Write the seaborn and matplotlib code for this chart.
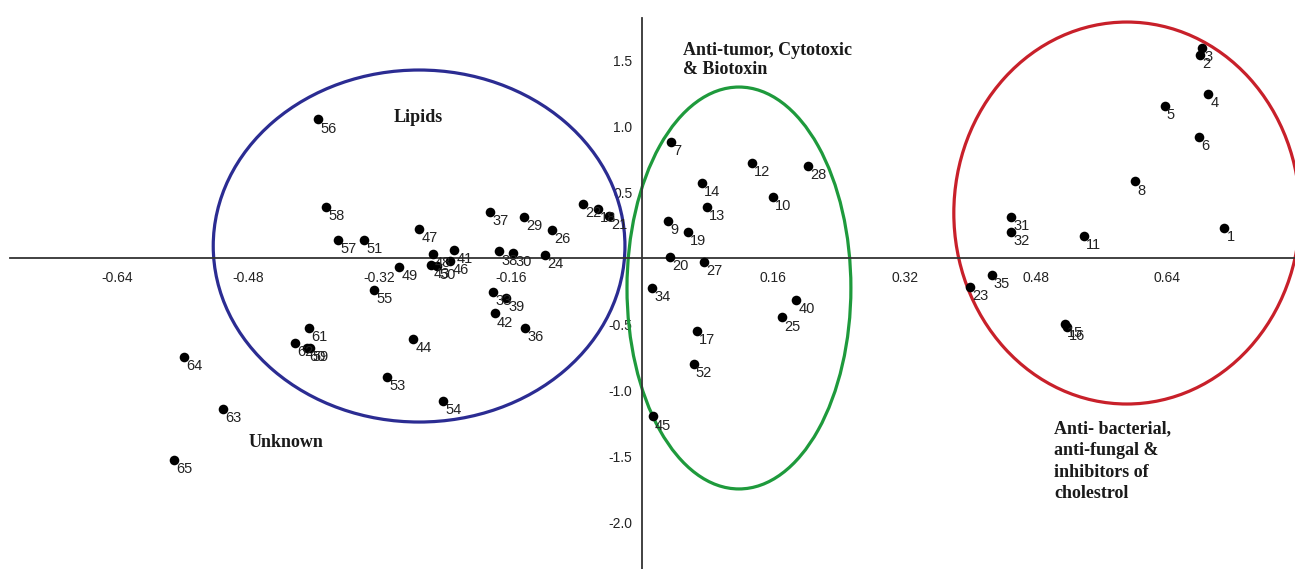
import numpy as np
import pandas as pd
import seaborn as sns
import matplotlib.pyplot as plt
from matplotlib.patches import Ellipse

# point ids and coordinates
ids = [1, 2, 3, 4, 5, 6, 7, 8, 9, 10,
       11, 12, 13, 14, 15, 16, 17, 18, 19, 20,
       21, 22, 23, 24, 25, 26, 27, 28, 29, 30,
       31, 32, 33, 34, 35, 36, 37, 38, 39, 40,
       41, 42, 43, 44, 45, 46, 47, 48, 49, 50,
       51, 52, 53, 54, 55, 56, 57, 58, 59, 60,
       61, 62, 63, 64, 65]
xs = [0.710, 0.680, 0.683, 0.690, 0.637, 0.679, 0.035, 0.601, 0.032, 0.159,
      0.539, 0.134, 0.079, 0.073, 0.515, 0.518, 0.067, -0.054, 0.056, 0.034,
      -0.040, -0.072, 0.400, -0.118, 0.171, -0.110, 0.076, 0.202, -0.144, -0.157,
      0.450, 0.450, -0.182, 0.012, 0.426, -0.143, -0.185, -0.174, -0.166, 0.188,
      -0.229, -0.180, -0.257, -0.279, 0.013, -0.234, -0.272, -0.255, -0.296, -0.250,
      -0.339, 0.063, -0.311, -0.243, -0.327, -0.395, -0.371, -0.385, -0.405, -0.409,
      -0.406, -0.423, -0.511, -0.559, -0.571]
ys = [0.227, 1.54, 1.59, 1.24, 1.15, 0.92, 0.88, 0.58, 0.28, 0.46,
      0.17, 0.72, 0.39, 0.57, -0.50, -0.52, -0.55, 0.37, 0.20, 0.01,
      0.32, 0.41, -0.22, 0.02, -0.45, 0.21, -0.03, 0.70, 0.31, 0.04,
      0.31, 0.20, -0.26, -0.23, -0.13, -0.53, 0.35, 0.05, -0.30, -0.32,
      0.06, -0.42, -0.05, -0.61, -1.20, -0.02, 0.22, 0.03, -0.07, -0.06,
      0.14, -0.80, -0.90, -1.08, -0.24, 1.05, 0.14, 0.39, -0.68, -0.68,
      -0.53, -0.64, -1.14, -0.75, -1.53]

x_ticks = [-0.64, -0.48, -0.32, -0.16, 0.16, 0.32, 0.48, 0.64]
y_ticks = [1.5, 1.0, 0.5, -0.5, -1.0, -1.5, -2.0]

# group ellipses: centre x, centre y, width, height, colour
groups = ['Lipids', 'Anti-tumor', 'Anti-bacterial']
ell_cx = [-0.272, 0.118, 0.591]
ell_cy = [0.091, -0.227, 0.341]
ell_w = [0.502, 0.273, 0.422]
ell_h = [2.667, 3.045, 2.894]
ell_col = ['#2b2c92', '#1e9a3c', '#c8202a']

df = pd.DataFrame({'id': ids, 'x': xs, 'y': ys})

sns.set_style('white')
plt.rcParams['font.family'] = ['Liberation Sans', 'DejaVu Sans']

fig = plt.figure(figsize=(12.95, 5.69), dpi=100)
ax = fig.add_axes([0, 0, 1, 1])

sns.scatterplot(data=df, x='x', y='y', color='black', s=48,
                edgecolor='black', linewidth=0, ax=ax, zorder=3)

for pid, px, py in zip(ids, xs, ys):
    ax.annotate(str(pid), (px, py), xytext=(1.5, -1.5),
                textcoords='offset points', ha='left', va='top',
                fontsize=10.5, color='#222222', zorder=4)

for cx, cy, w, h, c in zip(ell_cx, ell_cy, ell_w, ell_h, ell_col):
    ax.add_patch(Ellipse((cx, cy), w, h, fill=False, edgecolor=c, lw=2.3, zorder=2))

ax.set_xlim(-0.783, 0.796)
ax.set_ylim(-2.356, 1.955)

# axes through the origin
for s in ['top', 'right']:
    ax.spines[s].set_visible(False)
ax.spines['left'].set_position(('data', 0))
ax.spines['bottom'].set_position(('data', 0))
ax.spines['left'].set_bounds(-2.356, 1.818)
ax.spines['bottom'].set_bounds(-0.771, 0.796)
for s in ['left', 'bottom']:
    ax.spines[s].set_color('#333333')
    ax.spines[s].set_linewidth(1.3)

ax.set_xticks(x_ticks)
ax.set_xticklabels(['%.2f' % t for t in x_ticks])
ax.set_yticks(y_ticks)
ax.set_yticklabels(['%.1f' % t for t in y_ticks])
ax.tick_params(axis='both', direction='out', length=4, width=1.1, color='#333333',
               labelsize=10, labelcolor='#222222')
ax.tick_params(axis='x', pad=5)
ax.tick_params(axis='y', pad=3)
ax.set_xlabel('')
ax.set_ylabel('')

serif = dict(family=['Liberation Serif', 'DejaVu Serif'], fontweight='bold',
             fontsize=13, color='#1a1a1a')
ax.text(-0.273, 1.068, 'Lipids', ha='center', va='center', **serif)
ax.text(0.050, 1.64, 'Anti-tumor, Cytotoxic\n& Biotoxin', ha='left', va='top',
        linespacing=1.17, **serif)
ax.text(-0.434, -1.40, 'Unknown', ha='center', va='center', **serif)
ax.text(0.502, -1.23, 'Anti- bacterial,\nanti-fungal &\ninhibitors of\ncholestrol',
        ha='left', va='top', linespacing=1.36, **serif)

fig.savefig('out.png', dpi=100)
plt.close()
